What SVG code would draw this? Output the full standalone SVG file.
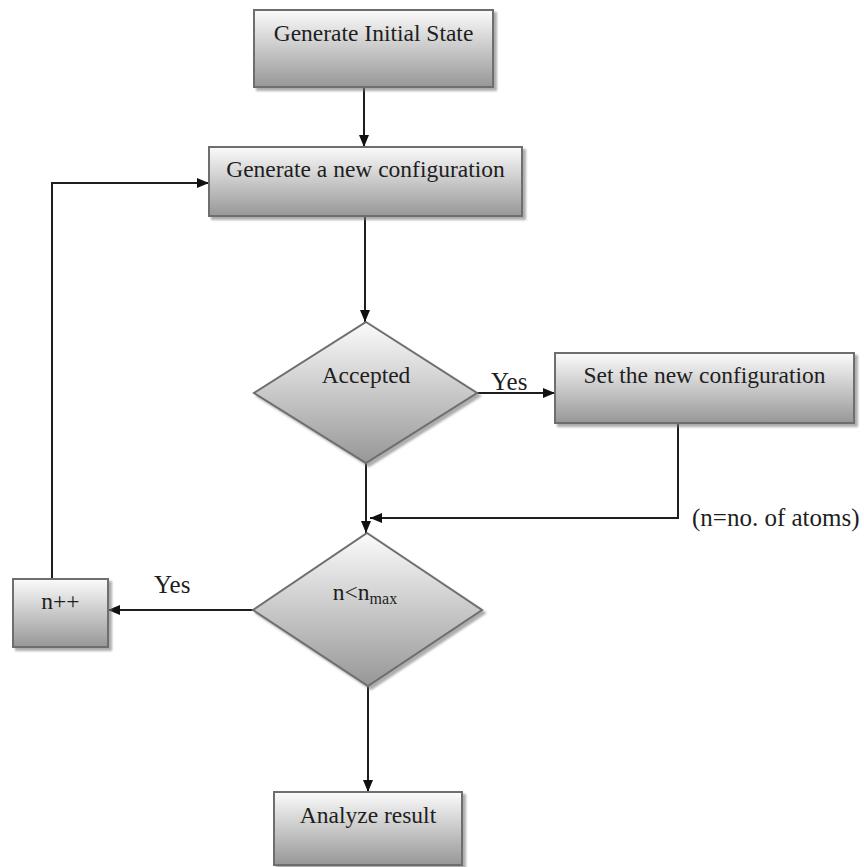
<svg xmlns="http://www.w3.org/2000/svg" width="864" height="867" viewBox="0 0 864 867">
  <defs>
    <linearGradient id="fillGrad" x1="0" y1="0" x2="0" y2="1">
      <stop offset="0" stop-color="#fbfbfb"/>
      <stop offset="1" stop-color="#979797"/>
    </linearGradient>
    <filter id="shadow" x="-10%" y="-10%" width="130%" height="130%">
      <feDropShadow dx="3" dy="3" stdDeviation="1.2" flood-color="#777" flood-opacity="0.6"/>
    </filter>
    <marker id="arrow" viewBox="0 0 12 10" refX="12" refY="5" markerWidth="12" markerHeight="10" markerUnits="userSpaceOnUse" orient="auto">
      <path d="M0,0 L12,5 L0,10 Z" fill="#111"/>
    </marker>
  </defs>
  <style>
    .shape { fill: url(#fillGrad); stroke: #6e6e6e; stroke-width: 2; filter: url(#shadow); }
    .label { font-family: "Liberation Serif", "Times New Roman", serif; font-size: 23.5px; fill: #1e1e1e; text-anchor: middle; }
    .note { font-family: "Liberation Serif", "Times New Roman", serif; font-size: 25px; fill: #1e1e1e; }
    .conn { fill: none; stroke: #1e1e1e; stroke-width: 2; }
  </style>

  <rect width="864" height="867" fill="#ffffff"/>

  <g id="connectors">
    <path class="conn" d="M364,87 V147" marker-end="url(#arrow)"/>
    <path class="conn" d="M365,216 V322" marker-end="url(#arrow)"/>
    <path class="conn" d="M477,393 H555" marker-end="url(#arrow)"/>
    <path class="conn" d="M678,423 V518 H370" marker-end="url(#arrow)"/>
    <path class="conn" d="M366,463 V533" marker-end="url(#arrow)"/>
    <path class="conn" d="M253,610 H108" marker-end="url(#arrow)"/>
    <path class="conn" d="M52,579 V183 H209" marker-end="url(#arrow)"/>
    <path class="conn" d="M368,686 V792" marker-end="url(#arrow)"/>
    <text class="note" x="491" y="390" font-size="26">Yes</text>
    <text class="note" x="154" y="593" font-size="25.5">Yes</text>
    <text class="note" x="692" y="526">(n=no. of atoms)</text>
  </g>

  <g id="initial-state">
    <rect class="shape" x="254" y="10" width="239" height="77"/>
    <text class="label" x="373.5" y="41">Generate Initial State</text>
  </g>

  <g id="new-configuration">
    <rect class="shape" x="209" y="147" width="313" height="69"/>
    <text class="label" x="365.5" y="177">Generate a new configuration</text>
  </g>

  <g id="accepted">
    <polygon class="shape" points="366,322 477,393 366,463 254,393"/>
    <text class="label" x="366" y="383">Accepted</text>
  </g>

  <g id="set-configuration">
    <rect class="shape" x="555" y="353" width="299" height="70"/>
    <text class="label" x="704.5" y="383">Set the new configuration</text>
  </g>

  <g id="loop-check">
    <polygon class="shape" points="367,533 482,610 368,686 253,610"/>
    <text class="label" x="365" y="600">n&lt;n<tspan font-size="16" dy="4">max</tspan></text>
  </g>

  <g id="increment">
    <rect class="shape" x="13" y="579" width="95" height="68"/>
    <text class="label" x="60.5" y="609">n++</text>
  </g>

  <g id="analyze">
    <rect class="shape" x="274" y="792" width="188" height="73"/>
    <text class="label" x="368" y="823">Analyze result</text>
  </g>
</svg>
